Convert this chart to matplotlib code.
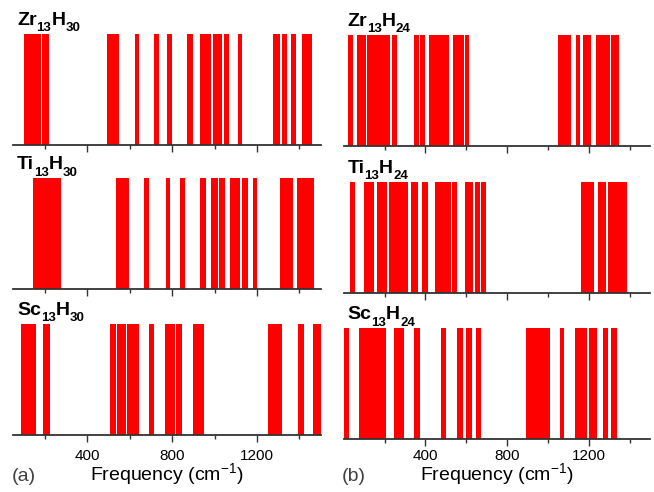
import matplotlib.pyplot as plt
from matplotlib.ticker import FixedLocator
from matplotlib.transforms import offset_copy

plt.rcParams['font.family'] = ['Liberation Sans', 'DejaVu Sans']
plt.rcParams['mathtext.fontset'] = 'custom'
plt.rcParams['mathtext.rm'] = 'Liberation Sans'

# vibrational frequencies (cm^-1)
zr13h30 = [112, 125, 140, 155, 169, 198, 208, 505, 518, 528, 539, 634, 726, 728, 786,
           879, 887, 940, 951, 962, 972, 1003, 1013, 1024, 1057, 1120,
           1287, 1299, 1329, 1332, 1373, 1375, 1423, 1447, 1450]
ti13h30 = [156, 170, 185, 200, 215, 230, 245, 258, 265, 545, 558, 570, 583, 679, 780,
           847, 849, 943, 948, 994, 1005, 1033, 1036, 1085, 1096, 1107, 1142, 1146, 1191,
           1321, 1334, 1346, 1359, 1400, 1413, 1426, 1440, 1452, 1458]
sc13h30 = [98, 112, 126, 140, 147, 203, 213, 518, 524, 548, 560, 572, 597, 610, 622, 633,
           699, 701, 776, 790, 803, 830, 835, 909, 922, 937,
           1261, 1275, 1290, 1307, 1405, 1411, 1476, 1489, 1495]
zr13h24 = [32, 33, 76, 88, 100, 125, 140, 155, 170, 185, 200, 212, 218, 246, 249,
           355, 358, 385, 387, 427, 440, 455, 470, 485, 498, 503, 546, 560, 572, 580, 604,
           1061, 1075, 1088, 1099, 1146, 1147, 1183, 1197, 1247, 1262, 1278, 1292,
           1317, 1330, 1338]
ti13h24 = [43, 109, 122, 136, 174, 188, 203, 231, 245, 260, 275, 290, 302, 342, 353,
           396, 400, 460, 475, 490, 505, 515, 542, 544, 604, 615, 622, 653, 657, 684,
           1170, 1185, 1200, 1213, 1257, 1272, 1306, 1320, 1335, 1350, 1365, 1377]
sc13h24 = [14, 84, 100, 115, 130, 145, 160, 175, 190, 195, 259, 272, 284, 355, 361,
           489, 490, 566, 572, 610, 616, 659, 662,
           901, 915, 930, 945, 960, 975, 990, 1000, 1067, 1068,
           1142, 1156, 1170, 1181, 1213, 1230, 1280, 1284, 1317, 1326]

# formula labels: (text, is_subscript)
left_panels = [(zr13h30, [('Zr', 0), ('13', 1), ('H', 0), ('30', 1)]),
               (ti13h30, [('Ti', 0), ('13', 1), ('H', 0), ('30', 1)]),
               (sc13h30, [('Sc', 0), ('13', 1), ('H', 0), ('30', 1)])]
right_panels = [(zr13h24, [('Zr', 0), ('13', 1), ('H', 0), ('24', 1)]),
                (ti13h24, [('Ti', 0), ('13', 1), ('H', 0), ('24', 1)]),
                (sc13h24, [('Sc', 0), ('13', 1), ('H', 0), ('24', 1)])]

major_ticks = [400, 800, 1200]
minor_ticks = [200, 600, 1000, 1400]

fig = plt.figure(figsize=(6.54, 4.92), dpi=100)
renderer = fig.canvas.get_renderer()

left_bottoms = [0.7053, 0.412, 0.1159]
right_bottoms = [0.7039, 0.405, 0.1071]
h = 0.2256


def draw_formula(ax, parts, x, y):
    trans = ax.transAxes
    for s, sub in parts:
        if sub:
            t = ax.text(x, y, s, transform=offset_copy(trans, fig=fig, y=-4.5, units='points'),
                        fontsize=9.5, fontweight='bold', va='baseline', ha='left')
        else:
            t = ax.text(x, y, s, transform=trans, fontsize=14, fontweight='bold',
                        va='baseline', ha='left')
        ext = t.get_window_extent(renderer)
        trans = offset_copy(trans, fig=fig, x=ext.width, units='dots')


def draw_panel(rect, freqs, label, xlim, show_labels, pad):
    ax = fig.add_axes(rect)
    ax.bar(freqs, 1.0, width=22, color='#ff0000', linewidth=0)
    ax.set_xlim(*xlim)
    ax.set_ylim(0, 1)
    for s in ['left', 'right', 'top']:
        ax.spines[s].set_visible(False)
    ax.spines['bottom'].set_color('#333333')
    ax.spines['bottom'].set_linewidth(1.3)
    ax.set_yticks([])
    ax.xaxis.set_major_locator(FixedLocator(major_ticks))
    ax.xaxis.set_minor_locator(FixedLocator(minor_ticks))
    ax.tick_params(axis='x', which='major', length=5, width=1, color='#333333',
                   labelsize=11, pad=pad)
    ax.tick_params(axis='x', which='minor', length=3, width=1, color='#333333')
    if not show_labels:
        ax.set_xticklabels([])
    draw_formula(ax, label, 0.012, 1.08)
    return ax


for i, (freqs, label) in enumerate(left_panels):
    draw_panel([0.0203, left_bottoms[i], 0.470, h], freqs, label, (50, 1500), i == 2, 5)
for i, (freqs, label) in enumerate(right_panels):
    draw_panel([0.5255, right_bottoms[i], 0.4688, h], freqs, label, (0, 1500), i == 2, 2)

fig.text(0.255, 0.022, r'Frequency (cm$^{-1}$)', ha='center', va='baseline', fontsize=14)
fig.text(0.76, 0.022, r'Frequency (cm$^{-1}$)', ha='center', va='baseline', fontsize=14)
fig.text(0.018, 0.022, '(a)', ha='left', va='baseline', fontsize=14, color='#404040')
fig.text(0.523, 0.022, '(b)', ha='left', va='baseline', fontsize=14, color='#404040')

fig.savefig('out.png', dpi=100)
